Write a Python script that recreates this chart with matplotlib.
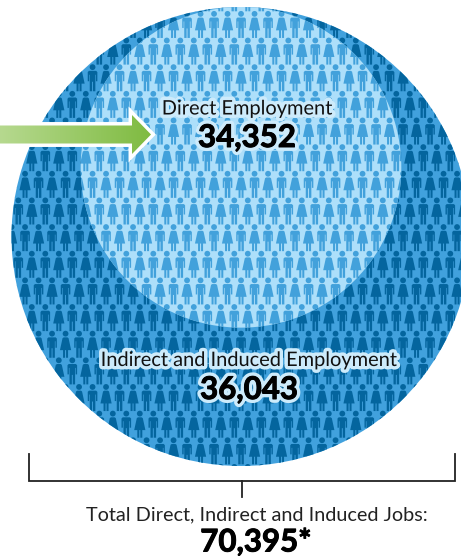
import numpy as np
import matplotlib
matplotlib.use("Agg")
import matplotlib.pyplot as plt
import matplotlib.patheffects as pe
from matplotlib.patches import Circle, PathPatch, Polygon
from matplotlib.path import Path

plt.rcParams["font.family"] = ["Lato", "Open Sans", "DejaVu Sans"]

direct_jobs = 34352
indirect_jobs = 36043
total_jobs = 70395
direct_label = "Direct Employment"
indirect_label = "Indirect and Induced Employment"
total_label = "Total Direct, Indirect and Induced Jobs:"

OUTER_BG = "#41a1dd"
OUTER_PEOPLE = "#04659e"
INNER_BG = "#addffa"
INNER_PEOPLE = "#42a1db"


def person(x, y, female):
    """one pictogram, x is the centre and y the top of the head"""
    head = Path.circle((x, y + 2.9), 2.9)
    if female:
        body = [(-1.8, 6.6), (1.8, 6.6), (3.0, 7.4), (5.6, 19.4), (2.5, 19.4), (2.5, 27),
                (0.5, 27), (0.5, 19.4), (-0.5, 19.4), (-0.5, 27), (-2.5, 27),
                (-2.5, 19.4), (-5.6, 19.4), (-3.0, 7.4)]
    else:
        body = [(-3.6, 6.6), (3.6, 6.6), (4.8, 7.8), (4.8, 17), (3.4, 17), (3.4, 10.5), (2.8, 10.5),
                (2.8, 27), (0.45, 27), (0.45, 17.5), (-0.45, 17.5), (-0.45, 27), (-2.8, 27),
                (-2.8, 10.5), (-3.4, 10.5), (-3.4, 17), (-4.8, 17), (-4.8, 7.8)]
    body = np.array(body, dtype=float) + [x, y]
    return Path.make_compound_path(head, Path(np.vstack([body, body[:1]]), closed=True))


def crowd():
    paths = []
    for i in range(-8, 12):
        y = 197.5 + i * 26.65
        x0 = 18.3 + (6.75 if i % 2 else 0)
        for j in range(-3, 36):
            male_even = i % 4 != 3
            female = (j % 2 == 0) != male_even
            paths.append(person(x0 + j * 13.5, y, female))
    return Path.make_compound_path(*paths)


fig = plt.figure(figsize=(4.61, 5.56), dpi=100)
ax = fig.add_axes([0, 0, 1, 1])
ax.set_xlim(0, 461)
ax.set_ylim(556, 0)
ax.axis("off")

# circle areas follow the job counts, both sit on the same top edge
scale = 229.5 / np.sqrt(total_jobs)
r_outer = scale * np.sqrt(total_jobs)
r_inner = scale * np.sqrt(direct_jobs)
cx = 241
top = 7
people = crowd()

outer = Circle((cx, top + r_outer), r_outer, fc=OUTER_BG, ec="none", zorder=1)
ax.add_patch(outer)
p1 = PathPatch(people, fc=OUTER_PEOPLE, ec="none", zorder=2)
ax.add_patch(p1)
p1.set_clip_path(outer)

inner = Circle((cx, top + r_inner), r_inner, fc=INNER_BG, ec="none", zorder=3)
ax.add_patch(inner)
p2 = PathPatch(people, fc=INNER_PEOPLE, ec="none", zorder=4)
ax.add_patch(p2)
p2.set_clip_path(inner)

# arrow with left to right fade
arrow_pts = [(-2, 125.5), (132, 125.5), (132, 115), (151, 134.5), (132, 154), (132, 143.5), (-2, 143.5)]
ax.add_patch(Polygon(arrow_pts, closed=True, fc="white", ec="white", lw=5, joinstyle="miter", zorder=5))
grad = matplotlib.colors.LinearSegmentedColormap.from_list("g", ["#b6d98f", "#7fbb41"])
im = ax.imshow(np.linspace(0, 1, 256).reshape(1, -1), extent=(0, 150, 156, 112), cmap=grad,
               aspect="auto", zorder=6)
shape = Polygon(arrow_pts, closed=True, fc="none", ec="none", transform=ax.transData)
ax.add_patch(shape)
im.set_clip_path(shape)
ax.set_xlim(0, 461)
ax.set_ylim(556, 0)

glow = [pe.withStroke(linewidth=5, foreground="#cdebfb")]
heavy = [pe.Stroke(linewidth=5.5, foreground="#cdebfb"), pe.Stroke(linewidth=0.7, foreground="black"), pe.Normal()]
ax.text(247, 109, direct_label, ha="center", va="center", fontsize=14.4, color="#111111",
        path_effects=glow, zorder=7)
ax.text(247, 138, f"{direct_jobs:,}", ha="center", va="center", fontsize=22.5, fontweight="bold",
        color="black", path_effects=heavy, zorder=7)
ax.text(249, 360.5, indirect_label, ha="center", va="center", fontsize=14.4, color="#111111",
        path_effects=glow, zorder=7)
ax.text(249, 390, f"{indirect_jobs:,}", ha="center", va="center", fontsize=22.5, fontweight="bold",
        color="black", path_effects=heavy, zorder=7)

# bracket under the circle
ax.plot([29, 29, 455, 455], [454, 481, 481, 454], color="#222222", lw=1.3, solid_joinstyle="miter")
ax.plot([241.5, 241.5], [481, 497], color="#222222", lw=1.3)

ax.text(256.5, 514.5, total_label, ha="center", va="center", fontsize=14.3, color="#222222")
ax.text(256, 542.5, f"{total_jobs:,}*", ha="center", va="center", fontsize=22.5, fontweight="bold",
        color="black", path_effects=[pe.Stroke(linewidth=0.7, foreground="black"), pe.Normal()])

fig.savefig("out.png", dpi=100)
